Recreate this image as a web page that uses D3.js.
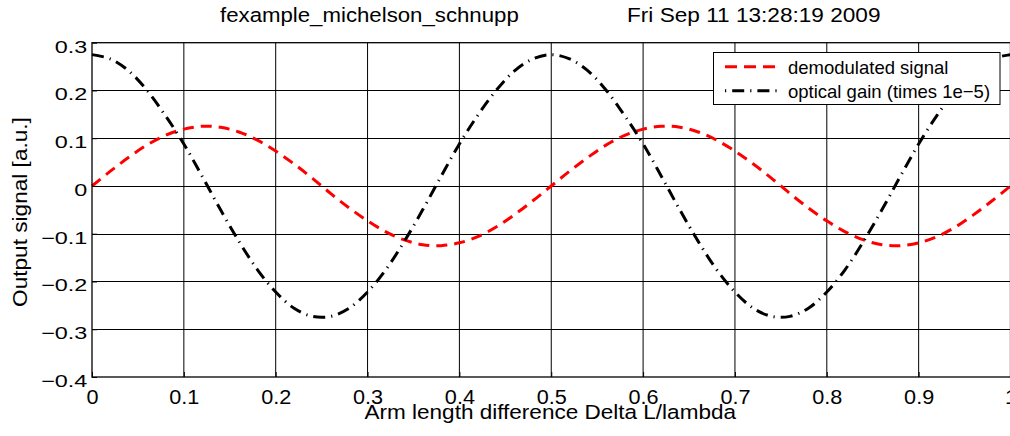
<!DOCTYPE html>
<html><head><meta charset="utf-8">
<script src="https://cdn.jsdelivr.net/npm/d3@7"></script>
<style>
body{margin:0;background:#fff}
svg{display:block}
text{font-family:"Liberation Sans",Arial,Helvetica,sans-serif;fill:#000}
</style>
</head><body>
<svg id="c" width="1010" height="436"></svg>
<script>
const xValues = [0,0.02,0.04,0.06,0.08,0.10,0.12,0.14,0.16,0.18,0.20,0.22,0.24,0.26,0.28,0.30,0.32,0.34,0.36,0.38,0.40,0.42,0.44,0.46,0.48,0.50,0.52,0.54,0.56,0.58,0.60,0.62,0.64,0.66,0.68,0.70,0.72,0.74,0.76,0.78,0.80,0.82,0.84,0.86,0.88,0.90,0.92,0.94,0.96,0.98,1.00];
const demodulated = [0,0.031,0.060,0.086,0.106,0.119,0.125,0.123,0.113,0.096,0.073,0.046,0.016,-0.016,-0.046,-0.073,-0.096,-0.113,-0.123,-0.125,-0.119,-0.106,-0.086,-0.060,-0.031,0,0.031,0.060,0.086,0.106,0.119,0.125,0.123,0.113,0.096,0.073,0.046,0.016,-0.016,-0.046,-0.073,-0.096,-0.113,-0.123,-0.125,-0.119,-0.106,-0.086,-0.060,-0.031,0];
const opticalGain = [0.275,0.266,0.241,0.200,0.147,0.088,0.020,-0.050,-0.116,-0.175,-0.222,-0.256,-0.273,-0.273,-0.256,-0.222,-0.175,-0.116,-0.050,0.020,0.088,0.148,0.200,0.241,0.266,0.275,0.266,0.241,0.200,0.147,0.088,0.020,-0.050,-0.116,-0.175,-0.222,-0.256,-0.273,-0.273,-0.256,-0.222,-0.175,-0.116,-0.050,0.020,0.088,0.148,0.200,0.241,0.266,0.275];
const xTickValues = [0,0.1,0.2,0.3,0.4,0.5,0.6,0.7,0.8,0.9,1];
const xTickLabels = ["0","0.1","0.2","0.3","0.4","0.5","0.6","0.7","0.8","0.9","1"];
const yTickValues = [-0.4,-0.3,-0.2,-0.1,0,0.1,0.2,0.3];
const yTickLabels = ["\u22120.4","\u22120.3","\u22120.2","\u22120.1","0","0.1","0.2","0.3"];
const seriesNames = ["demodulated signal","optical gain (times 1e\u22125)"];
const seriesColors = ["#ff0000","#000000"];
const titleLeft = "fexample_michelson_schnupp";
const titleRight = "Fri Sep 11 13:28:19 2009";
const xLabel = "Arm length difference Delta L/lambda";
const yLabel = "Output signal [a.u.]";

const svg = d3.select("#c");
const L = 92, R = 1010.5, T = 42.7, B = 377;
const x = d3.scaleLinear().domain([0,1]).range([L,R]);
const y = d3.scaleLinear().domain([-0.4,0.3]).range([B,T]);

svg.append("rect").attr("width",1010).attr("height",436).attr("fill","#fff");

// grid
const grid = svg.append("g").attr("stroke","#000").attr("stroke-width",1);
grid.selectAll("line.v").data(xTickValues.slice(1,-1)).join("line").attr("class","v")
  .attr("x1",d=>x(d)).attr("x2",d=>x(d)).attr("y1",T).attr("y2",B);
grid.selectAll("line.h").data(yTickValues.slice(1,-1)).join("line").attr("class","h")
  .attr("x1",L).attr("x2",R).attr("y1",d=>Math.round(y(d))+0.5).attr("y2",d=>Math.round(y(d))+0.5);

// series
const line = d3.line().x((d,i)=>x(xValues[i])).y(d=>y(d)).curve(d3.curveCatmullRom);
svg.append("path").datum(demodulated).attr("d",line).attr("fill","none")
  .attr("stroke",seriesColors[0]).attr("stroke-width",3).attr("stroke-dasharray","11,7");
svg.append("path").datum(opticalGain).attr("d",line).attr("fill","none")
  .attr("stroke",seriesColors[1]).attr("stroke-width",3).attr("stroke-dasharray","12,6,1.2,6");

// frame
svg.append("rect").attr("x",L).attr("y",T).attr("width",R-L).attr("height",B-T)
  .attr("fill","none").attr("stroke","#000").attr("stroke-width",1.3);

// axes
const xAxis = svg.append("g").attr("transform",`translate(0,${B})`)
  .call(d3.axisBottom(x).tickValues(xTickValues).tickFormat((d,i)=>xTickLabels[i]).tickSize(-5));
xAxis.select(".domain").remove();
xAxis.selectAll(".tick line").attr("stroke","#000");
xAxis.selectAll(".tick text").attr("x",0).attr("y",0).attr("dy",null)
  .attr("font-size",19.5).attr("font-family",null)
  .attr("transform","translate(0,27) scale(1.11,1)");

const yAxis = svg.append("g").attr("transform",`translate(${L},0)`)
  .call(d3.axisLeft(y).tickValues(yTickValues).tickFormat((d,i)=>yTickLabels[i]).tickSize(-5));
yAxis.select(".domain").remove();
yAxis.selectAll(".tick line").attr("stroke","#000");
yAxis.selectAll(".tick text").attr("x",0).attr("y",0).attr("dy",null)
  .attr("font-size",17.2).attr("font-family",null).attr("text-anchor","end")
  .attr("transform","translate(-4.7,9.3) scale(1.36,1)");
svg.selectAll(".tick text").style("fill","#000");

function stext(px,py,str,size,sx,anchor,rot){
  svg.append("text")
    .attr("transform",`translate(${px},${py}) rotate(${rot||0}) scale(${sx},1)`)
    .attr("font-size",size).attr("text-anchor",anchor).text(str);
}
stext(220,22,titleLeft,19.5,1.14,"start");
stext(627,22,titleRight,19.5,1.16,"start");
stext((L+R)/2-1,419,xLabel,19.5,1.156,"middle");
stext(27,212,yLabel,19.5,1.16,"middle",-90);

// legend
const lg = svg.append("g");
lg.append("rect").attr("x",713.5).attr("y",52.5).attr("width",286.5).attr("height",52)
  .attr("fill","#fff").attr("stroke","#000").attr("stroke-width",1);
const rowsY = [66.7,90.7];
const dashes = ["12,7","1.2,6,12,6"];
seriesNames.forEach((n,i)=>{
  lg.append("line").attr("x1",725).attr("x2",782).attr("y1",rowsY[i]).attr("y2",rowsY[i])
    .attr("stroke",seriesColors[i]).attr("stroke-width",3).attr("stroke-dasharray",dashes[i]);
  lg.append("text").attr("x",788).attr("y",rowsY[i]+7.4).attr("font-size",18.5).text(n);
});
</script>
</body></html>
